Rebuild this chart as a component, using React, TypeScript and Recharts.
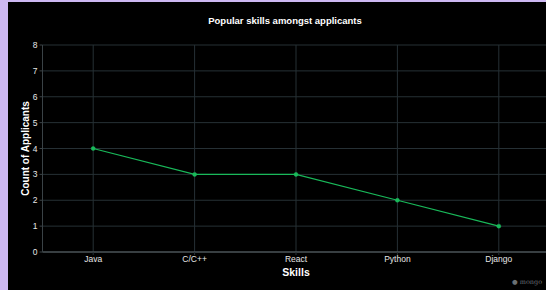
import { CartesianGrid, Label, Line, LineChart, XAxis, YAxis } from "recharts";

const skills = ["Java", "C/C++", "React", "Python", "Django"];
const applicantCounts = [4, 3, 3, 2, 1];
const yTicks = [0, 1, 2, 3, 4, 5, 6, 7, 8];

const data = skills.map((skill, i) => ({ skill, count: applicantCounts[i] }));

const FONT = "'Liberation Sans', Arial, sans-serif";

const renderYLabel = (props: any) => {
  const vb = props.viewBox || {};
  const cx = 17;
  const cy = vb.y + vb.height / 2;
  return (
    <text
      x={cx}
      y={cy}
      transform={`rotate(-90 ${cx} ${cy})`}
      textAnchor="middle"
      dominantBaseline="central"
      fill="#ffffff"
      fontSize={10}
      fontWeight="bold"
      fontFamily={FONT}
    >
      Count of Applicants
    </text>
  );
};

export default function App() {
  return (
    <div
      style={{
        position: "fixed",
        left: 0,
        top: 0,
        width: 546,
        height: 290,
        overflow: "hidden",
        background: "#cdb8f2",
      }}
    >
      <div
        style={{
          position: "absolute",
          left: 8,
          top: 2,
          width: 560,
          height: 300,
          background: "#000000",
          fontFamily: FONT,
        }}
      >
        <div
          style={{
            position: "absolute",
            left: 0,
            top: 13,
            width: 554,
            textAlign: "center",
            color: "#ffffff",
            fontSize: 9.5,
            fontWeight: "bold",
          }}
        >
          Popular skills amongst applicants
        </div>
        <LineChart
          width={560}
          height={288}
          data={data}
          margin={{ top: 43, right: 18.5, left: 4.5, bottom: 0 }}
        >
          <CartesianGrid stroke="#263035" strokeWidth={1} />
          <XAxis
            dataKey="skill"
            height={38}
            padding={{ left: 50.7, right: 50.7 }}
            axisLine={{ stroke: "#5f676b" }}
            tickLine={{ stroke: "#263035" }}
            tickSize={3}
            tick={{ fill: "#e6e6e6", fontSize: 8.5, fontFamily: FONT }}
            tickMargin={1}
          >
            <Label
              value="Skills"
              position="insideBottom"
              offset={14}
              fill="#ffffff"
              fontSize={10.5}
              fontWeight="bold"
              fontFamily={FONT}
            />
          </XAxis>
          <YAxis
            width={30}
            domain={[0, 8]}
            ticks={yTicks}
            interval={0}
            stroke="#3a4246"
            tickSize={3}
            tick={{ fill: "#e6e6e6", fontSize: 8.5, fontFamily: FONT }}
          >
            <Label content={renderYLabel} />
          </YAxis>
          <Line
            type="linear"
            dataKey="count"
            stroke="#19b95a"
            strokeWidth={1.2}
            dot={{ r: 2, fill: "#19b95a", stroke: "#19b95a", strokeWidth: 0.5 }}
            isAnimationActive={false}
          />
        </LineChart>
        <div
          style={{
            position: "absolute",
            left: 504,
            top: 276,
            color: "#6a7074",
            fontSize: 6.5,
            fontFamily: "'DejaVu Serif', serif",
            whiteSpace: "nowrap",
          }}
        >
          ● mongo
        </div>
      </div>
    </div>
  );
}
